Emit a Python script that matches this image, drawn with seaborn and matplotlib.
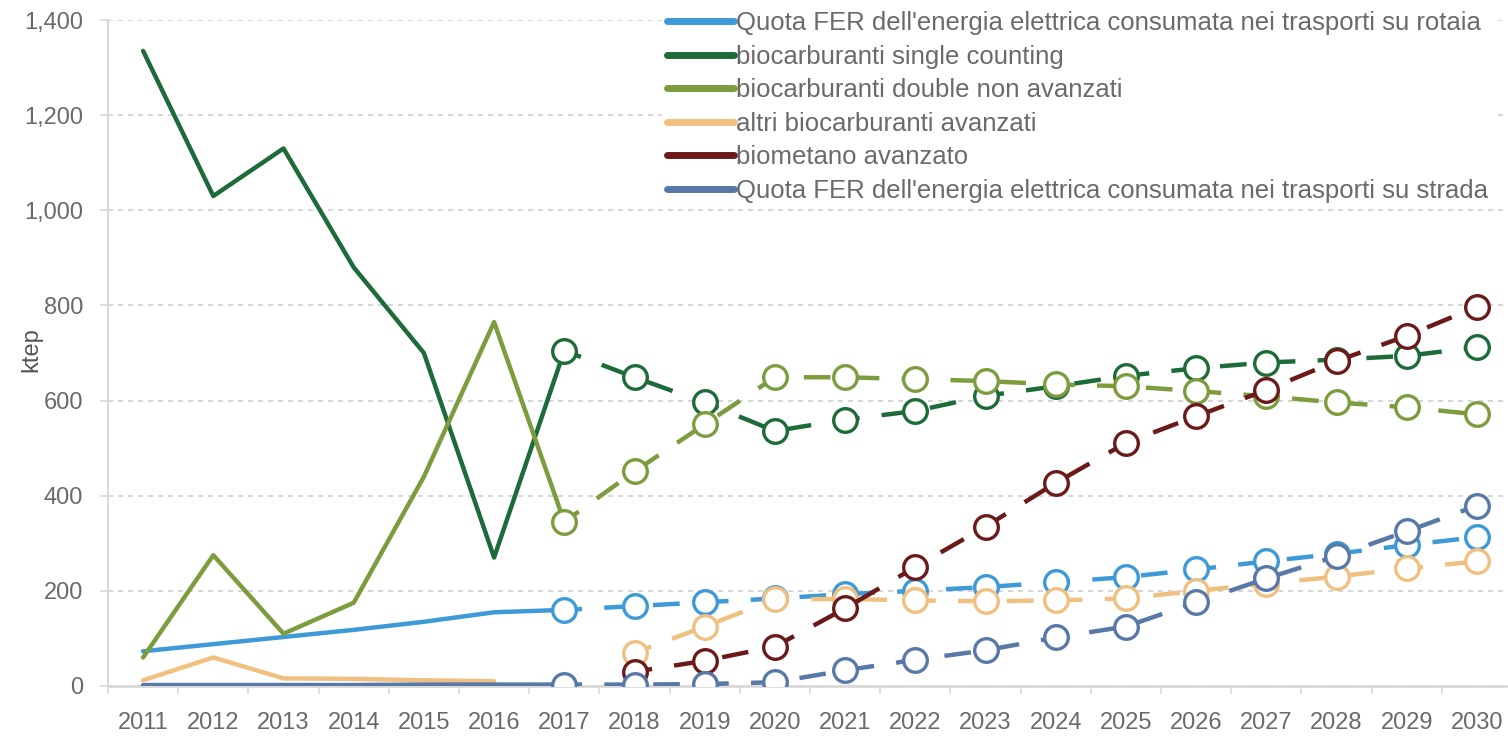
import numpy as np
import pandas as pd
import matplotlib
matplotlib.use("Agg")
import matplotlib.pyplot as plt
from matplotlib.lines import Line2D
from matplotlib.ticker import FuncFormatter, MultipleLocator
import seaborn as sns

# Years on the category axis
years_hist = list(range(2011, 2018))
years_proj = list(range(2017, 2031))

# Historical values 2011-2017 (ktep)
rail_hist = [73, 88, 103, 118, 135, 155, 160]
single_hist = [1335, 1030, 1130, 880, 700, 270, 705]
double_hist = [60, 275, 110, 175, 440, 765, 345]
altri_hist = [12, 60, 16, 15, 12, 10, np.nan]
road_hist = [2, 2, 2, 2, 3, 3, 3]

# Projected values 2017-2030 (ktep)
rail_proj = [160, 168, 176, 184, 193, 200, 208, 218, 229, 245, 262, 278, 296, 313]
single_proj = [705, 649, 596, 536, 560, 578, 610, 630, 652, 668, 680, 686, 694, 712]
double_proj = [345, 451, 550, 649, 649, 645, 641, 634, 630, 620, 609, 596, 586, 571]
altri_proj = [np.nan, 70, 125, 182, 183, 180, 178, 180, 184, 200, 215, 230, 247, 262]
biomet_proj = [np.nan, 30, 53, 83, 163, 250, 335, 427, 511, 567, 622, 683, 736, 797]
road_proj = [3, 3, 4, 8, 33, 55, 75, 102, 125, 176, 226, 273, 325, 379]

labels = [
    "Quota FER dell'energia elettrica consumata nei trasporti su rotaia",
    "biocarburanti single counting",
    "biocarburanti double non avanzati",
    "altri biocarburanti avanzati",
    "biometano avanzato",
    "Quota FER dell'energia elettrica consumata nei trasporti su strada",
]
colors = ["#3d9ad6", "#1d6b38", "#7c9c3e", "#f0c080", "#6b1a1a", "#5878a8"]

hist = [rail_hist, single_hist, double_hist, altri_hist, None, road_hist]
proj = [rail_proj, single_proj, double_proj, altri_proj, biomet_proj, road_proj]

sns.set_theme(style="white")
plt.rcParams["font.family"] = ["Liberation Sans", "DejaVu Sans"]

text_color = "#6a6a6a"
fig = plt.figure(figsize=(15.08, 7.37), dpi=100)
ax = fig.add_axes([108 / 1508, 1 - 686 / 737, (1512 - 108) / 1508, (686 - 20) / 737])

draw_order = [5, 3, 0, 4, 2, 1]
for k in draw_order:
    c = colors[k]
    if hist[k] is not None:
        dfh = pd.DataFrame({"anno": years_hist, "ktep": hist[k]}).dropna()
        sns.lineplot(data=dfh, x="anno", y="ktep", ax=ax, color=c, lw=3.2,
                     zorder=3 + k * 0.1)
    dfp = pd.DataFrame({"anno": years_proj, "ktep": proj[k]}).dropna()
    sns.lineplot(data=dfp, x="anno", y="ktep", ax=ax, color=c, lw=3.2,
                 linestyle=(2, (6, 5)), marker="o", markersize=17,
                 markerfacecolor="white", markeredgecolor=c,
                 markeredgewidth=2.4, zorder=4 + k * 0.1)

ax.set_xlim(2010.5, 2030.5)
ax.set_ylim(0, 1400)
ax.set_xticks(list(range(2011, 2031)))
ax.set_xticks([y + 0.5 for y in range(2010, 2031)], minor=True)
ax.yaxis.set_major_locator(MultipleLocator(200))
ax.yaxis.set_major_formatter(FuncFormatter(lambda v, p: f"{int(v):,}"))

ax.tick_params(axis="x", which="major", length=0, pad=19, labelsize=17,
               labelcolor=text_color)
ax.tick_params(axis="x", which="minor", length=6, width=1.2, color="#d9d9d9",
               direction="out", bottom=True)
ax.tick_params(axis="y", which="major", length=6, width=1.2, color="#d9d9d9",
               direction="out", pad=12, labelsize=17, labelcolor=text_color,
               left=True)

ax.grid(axis="y", color="#cfcfcf", lw=1.2, linestyle=(0, (3, 3)))
ax.grid(axis="x", visible=False)
for s in ["top", "right"]:
    ax.spines[s].set_visible(False)
ax.spines["left"].set_color("#d9d9d9")
ax.spines["left"].set_linewidth(1.5)
ax.spines["bottom"].set_color("#d9d9d9")
ax.spines["bottom"].set_linewidth(2)

ax.set_xlabel("")
ax.set_ylabel("ktep", fontsize=17, color="#555555")
ax.yaxis.set_label_coords(-0.047, 0.505)

handles = [Line2D([0], [0], color=c, lw=5) for c in colors]
leg = fig.legend(handles, labels, loc="upper left",
                 bbox_to_anchor=(662 / 1508, 1 - 6 / 737),
                 frameon=True, fontsize=18.5, handlelength=2.6,
                 handletextpad=0.08, labelspacing=0.37, borderpad=0.2,
                 borderaxespad=0)
leg.get_frame().set_facecolor("white")
leg.get_frame().set_edgecolor("none")
leg.get_frame().set_alpha(1)
for t in leg.get_texts():
    t.set_color(text_color)

fig.savefig("out.png", dpi=100)
